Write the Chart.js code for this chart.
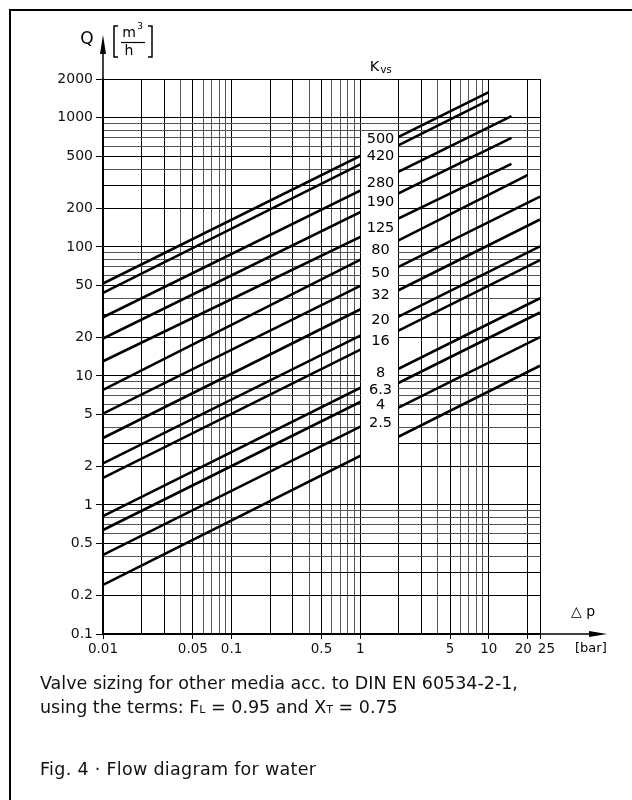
<!DOCTYPE html>
<html>
<head>
<meta charset="utf-8">
<script src="https://cdn.jsdelivr.net/npm/chart.js@4.4.0/dist/chart.umd.min.js"></script>
<style>
  body { margin: 0; background: #fff; }
  #wrap { position: relative; width: 632px; height: 800px; overflow: hidden; }
  #frame { position: absolute; left: 9px; top: 9px; width: 700px; height: 900px;
           border-left: 2px solid #000; border-top: 2px solid #000; }
  canvas { position: absolute; left: 0; top: 0; }
  .note { position: absolute; left: 40px; font-family: "DejaVu Sans", sans-serif;
          font-size: 17.5px; line-height: 24px; color: #111; white-space: nowrap; }
  .sub { font-size: 11px; }
</style>
</head>
<body>
<div id="wrap">
  <div id="frame"></div>
  <canvas id="myChart" width="632" height="800"></canvas>
  <div class="note" style="top:671px">Valve sizing for other media acc. to DIN EN 60534-2-1,<br>using the terms: F<span class="sub">L</span> = 0.95 and X<span class="sub">T</span> = 0.75</div>
  <div class="note" style="top:757px;letter-spacing:0.3px">Fig. 4 · Flow diagram for water</div>
</div>
<script>
// Kvs lines: start / end points of each straight line
const kvsLabels = ["500", "420", "280", "190", "125", "80", "50", "32", "20", "16", "8", "6.3", "4", "2.5"];
const dpStart = [0.01, 0.01, 0.01, 0.01, 0.01, 0.01, 0.01, 0.01, 0.01, 0.01, 0.01, 0.01, 0.01, 0.01];
const qStart  = [52, 44, 28.5, 19.5, 13, 7.8, 5.1, 3.3, 2.1, 1.62, 0.82, 0.64, 0.41, 0.24];
const dpEnd   = [10, 10, 15, 15, 15, 20, 25, 25, 25, 25, 25, 25, 25, 25];
const qEnd    = [1580, 1370, 1030, 700, 440, 360, 245, 163, 101, 79, 40, 31, 20, 12];
// where each Kvs number sits in the label column (Q value)
const labelQ  = [684, 505, 312, 222, 139, 94, 62, 42, 27, 18.5, 10.4, 7.8, 5.9, 4.3];

const xTickLabels = [0.01, 0.05, 0.1, 0.5, 1, 5, 10, 20, 25];
const yTickLabels = [0.1, 0.2, 0.5, 1, 2, 5, 10, 20, 50, 100, 200, 500, 1000, 2000];

// log grid: 1..9 in every decade
const xGrid = [];
[0.01, 0.1, 1].forEach(d => { for (let m = 1; m <= 9; m++) xGrid.push(+(m * d).toPrecision(3)); });
xGrid.push(10, 20, 25);
const yGrid = [];
[0.1, 1, 10, 100].forEach(d => { for (let m = 1; m <= 9; m++) yGrid.push(+(m * d).toPrecision(3)); });
yGrid.push(1000, 2000);

const FONT = "DejaVu Sans";
const hasLabel = (list, v) => list.some(t => Math.abs(t - v) < t * 1e-6);
const gridColor = (ctx) => {
  const v = ctx.tick.value;
  const m = Math.round(v / Math.pow(10, Math.floor(Math.log10(v) + 1e-9)));
  return [1, 2, 3, 5].includes(m) ? "#000" : "#555";
};

const overlay = {
  id: "overlay",
  afterDatasetsDraw(chart) {
    const c = chart.ctx;
    const xs = chart.scales.x, ys = chart.scales.y;
    const area = chart.chartArea;
    c.save();
    // white column for the Kvs numbers
    const x1 = Math.round(xs.getPixelForValue(1)) + 1;
    const x2 = Math.round(xs.getPixelForValue(2)) - 1;
    const yTop = ys.getPixelForValue(750), yBot = ys.getPixelForValue(2.1);
    c.fillStyle = "#fff";
    c.fillRect(x1, yTop, x2 - x1, yBot - yTop);
    c.fillStyle = "#000";
    c.font = "14.5px '" + FONT + "'";
    c.textAlign = "center";
    c.textBaseline = "middle";
    const cx = (x1 + x2) / 2 + 1;
    kvsLabels.forEach((t, i) => c.fillText(t, cx, ys.getPixelForValue(labelQ[i])));
    // Kvs heading
    c.fillText("K", cx - 6, 67);
    c.font = "10px '" + FONT + "'";
    c.textAlign = "left";
    c.fillText("vs", cx + 0, 70);

    // axis arrows
    c.strokeStyle = "#000";
    c.fillStyle = "#000";
    c.lineWidth = 1.5;
    const ax = area.left, ay = area.bottom;
    c.beginPath(); c.moveTo(ax, area.top); c.lineTo(ax, 48); c.stroke();
    c.beginPath(); c.moveTo(ax, 35); c.lineTo(ax - 3, 54); c.lineTo(ax + 3, 54); c.closePath(); c.fill();
    c.beginPath(); c.moveTo(area.right, ay); c.lineTo(595, ay); c.stroke();
    c.beginPath(); c.moveTo(607, ay); c.lineTo(589, ay - 3); c.lineTo(589, ay + 3); c.closePath(); c.fill();

    // axis titles
    c.fillStyle = "#000";
    c.font = "17px '" + FONT + "'";
    c.textAlign = "center";
    c.fillText("Q", 87, 40);
    c.font = "14px '" + FONT + "'";
    c.fillText("m", 129, 33);
    c.fillText("h", 129, 51);
    c.font = "9px '" + FONT + "'";
    c.fillText("3", 140, 27);
    c.lineWidth = 1.2;
    c.beginPath(); c.moveTo(121, 42.5); c.lineTo(145, 42.5); c.stroke();
    c.lineWidth = 1.5;
    c.beginPath(); c.moveTo(118, 26); c.lineTo(114, 26); c.lineTo(114, 57); c.lineTo(118, 57); c.stroke();
    c.beginPath(); c.moveTo(148, 26); c.lineTo(152, 26); c.lineTo(152, 57); c.lineTo(148, 57); c.stroke();

    c.font = "14px '" + FONT + "'";
    c.textAlign = "left";
    c.fillText("\u25B3 p", 571, 612);
    c.font = "13px '" + FONT + "'";
    c.fillText("[bar]", 575, 649);
    c.restore();
  }
};

const datasets = kvsLabels.map((k, i) => ({
  label: "Kvs " + k,
  data: [{ x: dpStart[i], y: qStart[i] }, { x: dpEnd[i], y: qEnd[i] }],
  borderColor: "#000",
  borderWidth: 2.6,
  pointRadius: 0,
  fill: false,
  tension: 0,
}));

new Chart(document.getElementById("myChart"), {
  type: "line",
  data: { datasets },
  plugins: [overlay],
  options: {
    responsive: false,
    animation: false,
    layout: { padding: { left: 0, top: 79, right: 92, bottom: 136 } },
    plugins: { legend: { display: false }, tooltip: { enabled: false } },
    scales: {
      x: {
        type: "logarithmic",
        min: 0.01,
        max: 25,
        afterBuildTicks: (s) => { s.ticks = xGrid.map(v => ({ value: v })); },
        afterFit: (s) => { s.height = 30; },
        ticks: {
          autoSkip: false,
          maxRotation: 0,
          padding: 2,
          color: "#111",
          font: { family: FONT, size: 13.5 },
          callback: (v) => {
            if (!hasLabel(xTickLabels, v)) return "";
            if (Math.abs(v - 20) < 1e-6) return "20  ";
            if (Math.abs(v - 25) < 1e-6) return "   25";
            return String(+v.toPrecision(3));
          },
        },
        grid: {
          color: gridColor,
          lineWidth: 1,
          tickLength: 5,
          tickColor: (ctx) => hasLabel(xTickLabels, ctx.tick.value) ? "#000" : "rgba(0,0,0,0)",
        },
        border: { display: true, color: "#000", width: 1.5 },
      },
      y: {
        type: "logarithmic",
        min: 0.1,
        max: 2000,
        afterBuildTicks: (s) => { s.ticks = yGrid.map(v => ({ value: v })); },
        afterFit: (s) => { s.width = 103; },
        ticks: {
          autoSkip: false,
          padding: 3,
          color: "#111",
          font: { family: FONT, size: 14 },
          callback: (v) => hasLabel(yTickLabels, v) ? String(+v.toPrecision(3)) : "",
        },
        grid: {
          color: gridColor,
          lineWidth: 1,
          tickLength: 7,
          tickColor: (ctx) => hasLabel(yTickLabels, ctx.tick.value) ? "#000" : "rgba(0,0,0,0)",
        },
        border: { display: true, color: "#000", width: 1.5 },
      },
    },
  },
});
</script>
</body>
</html>
